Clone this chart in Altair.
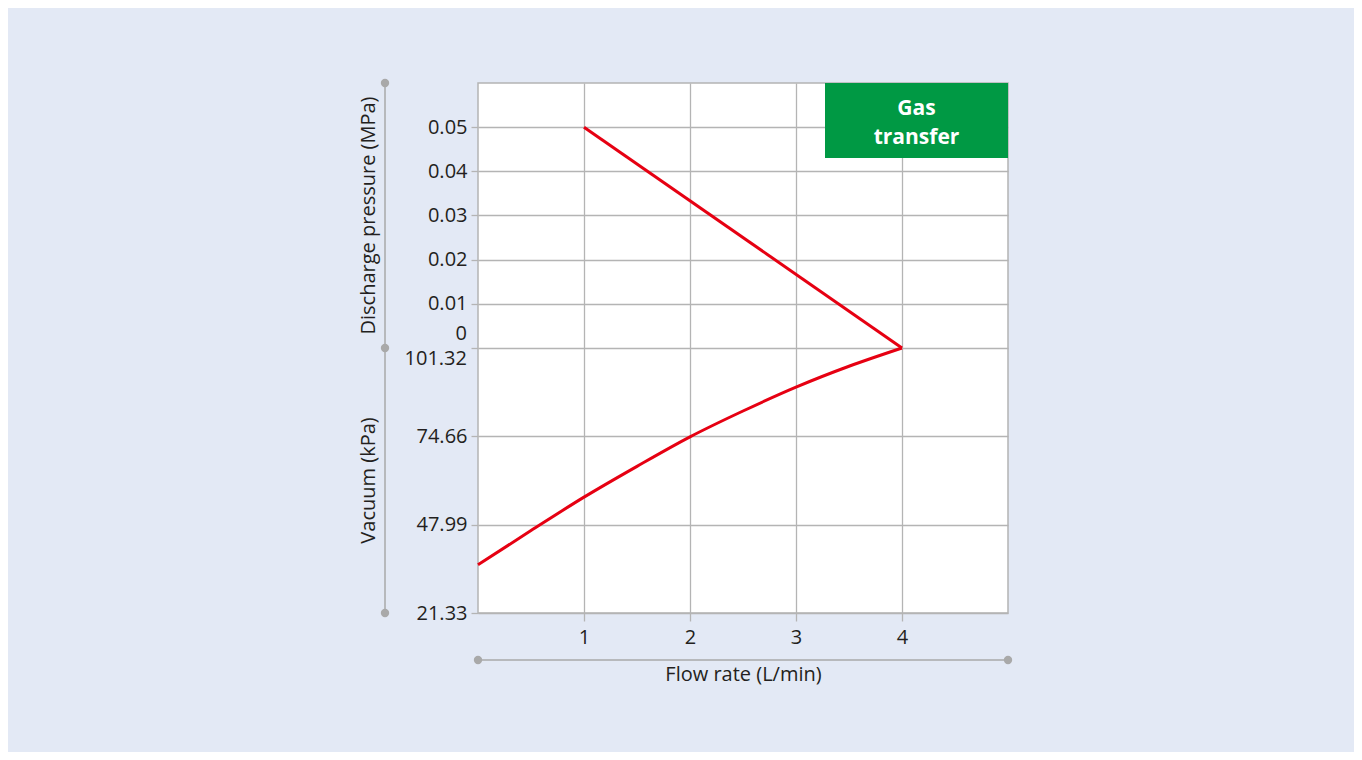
import altair as alt
import pandas as pd

# ---- data ----
flow_discharge = [1, 4]
pressure_mpa = [0.05, 0.0]

flow_vacuum = [0, 0.5, 1, 1.5, 2, 2.5, 3, 3.5, 4]
vacuum_kpa = [35.9, 46.2, 56.3, 65.6, 74.5, 82.3, 89.5, 95.8, 101.32]

flow_ticks = [1, 2, 3, 4]
pressure_ticks = [0.01, 0.02, 0.03, 0.04, 0.05]
vacuum_ticks = [101.32, 74.66, 47.99, 21.33]

panel_label = ["Gas", "transfer"]
x_title = "Flow rate (L/min)"
y_title_top = "Discharge pressure (MPa)"
y_title_bottom = "Vacuum (kPa)"

# ---- combined vertical scale: pressure above 0, vacuum below ----
def p_unit(p):
    return p * 100.0

def v_unit(v):
    return (v - 101.32) / 13.33

W, H = 530, 530
FONT = "Open Sans"
FS = 20
TXT = "#231f20"
GRID = "#b4b4b4"
DECO = "#a9a9a9"
BG = "#e3e9f5"

curve = pd.DataFrame(
    {
        "flow": flow_discharge + flow_vacuum,
        "y": [p_unit(p) for p in pressure_mpa] + [v_unit(v) for v in vacuum_kpa],
        "series": ["discharge"] * len(flow_discharge) + ["vacuum"] * len(flow_vacuum),
    }
)

# axis ticks & labels (the shared zero line gets its two labels from a text layer)
tick_pos = [p_unit(p) for p in pressure_ticks] + [v_unit(v) for v in vacuum_ticks[1:]]
tick_lab = [f"{p:.2f}" for p in pressure_ticks] + [f"{v:.2f}" for v in vacuum_ticks[1:]]

expr = ""
for pos, lab in zip(tick_pos, tick_lab):
    expr += f"abs(datum.value - ({pos:.5f})) < 0.01 ? '{lab}' : "
expr += "''"

ydom = [v_unit(vacuum_ticks[-1]), 6.0]
xdom = [0, 5]

xs = alt.Scale(domain=xdom, nice=False, zero=False)
ys = alt.Scale(domain=ydom, nice=False, zero=False)

x_axis = alt.Axis(
    values=flow_ticks,
    format="d",
    grid=True,
    gridColor=GRID,
    gridWidth=1.3,
    domain=False,
    ticks=True,
    tickColor=GRID,
    tickSize=8,
    tickWidth=1.3,
    labelFont=FONT,
    labelFontSize=FS,
    labelColor=TXT,
    labelPadding=6,
    title=x_title,
    titleFont=FONT,
    titleFontSize=FS,
    titleFontWeight="normal",
    titleColor=TXT,
    titlePadding=17,
)

y_axis = alt.Axis(
    values=[0.0] + tick_pos,
    grid=True,
    gridColor=GRID,
    gridWidth=1.3,
    domain=False,
    ticks=True,
    tickColor=GRID,
    tickSize=7,
    tickWidth=1.3,
    labelFont=FONT,
    labelFontSize=FS,
    labelColor=TXT,
    labelPadding=4,
    labelOverlap=False,
    labelExpr=expr,
    title=None,
)

lines = (
    alt.Chart(curve)
    .mark_line(color="#e60012", strokeWidth=3, interpolate="monotone")
    .encode(
        x=alt.X("flow:Q", scale=xs, axis=x_axis),
        y=alt.Y("y:Q", scale=ys, axis=y_axis),
        detail="series:N",
    )
)

# the two labels that share the zero line
zero_df = pd.DataFrame({"y": [0.0], "t": ["0"]})
zero_top = (
    alt.Chart(zero_df)
    .mark_text(font=FONT, fontSize=FS, color=TXT, align="right", baseline="middle", dy=-14)
    .encode(x=alt.value(-11), y=alt.Y("y:Q", scale=ys), text="t:N")
)
zero_bot_df = pd.DataFrame({"y": [0.0], "t": [f"{vacuum_ticks[0]:.2f}"]})
zero_bot = (
    alt.Chart(zero_bot_df)
    .mark_text(font=FONT, fontSize=FS, color=TXT, align="right", baseline="middle", dy=11)
    .encode(x=alt.value(-11), y=alt.Y("y:Q", scale=ys), text="t:N")
)

# left decoration line with dots
left_df = pd.DataFrame({"y": [ydom[1], 0.0, ydom[0]]})
left_rule = (
    alt.Chart(pd.DataFrame({"y": [ydom[0]], "y2": [ydom[1]]}))
    .mark_rule(color=DECO, strokeWidth=1.5)
    .encode(x=alt.value(-93), y=alt.Y("y:Q", scale=ys), y2="y2:Q")
)
left_dots = (
    alt.Chart(left_df)
    .mark_circle(color=DECO, opacity=1, size=70)
    .encode(x=alt.value(-93), y=alt.Y("y:Q", scale=ys))
)

# bottom decoration line with dots
bot_df = pd.DataFrame({"x": xdom})
bot_rule = (
    alt.Chart(pd.DataFrame({"x": [xdom[0]], "x2": [xdom[1]]}))
    .mark_rule(color=DECO, strokeWidth=1.5)
    .encode(y=alt.value(H + 47), x=alt.X("x:Q", scale=xs), x2="x2:Q")
)
bot_dots = (
    alt.Chart(bot_df)
    .mark_circle(color=DECO, opacity=1, size=70)
    .encode(y=alt.value(H + 47), x=alt.X("x:Q", scale=xs))
)

# rotated axis titles
titles_df = pd.DataFrame({"y": [3.0, -3.0], "t": [y_title_top, y_title_bottom]})
titles = (
    alt.Chart(titles_df)
    .mark_text(angle=270, font=FONT, fontSize=FS, color=TXT, baseline="middle", align="center")
    .encode(x=alt.value(-109), y=alt.Y("y:Q", scale=ys), text="t:N")
)

# green label box
box = (
    alt.Chart(pd.DataFrame({"k": [0]}))
    .mark_rect(color="#009944")
    .encode(x=alt.value(347), x2=alt.value(W), y=alt.value(0), y2=alt.value(75))
)
box_text = (
    alt.Chart(pd.DataFrame({"k": [0]}))
    .mark_text(
        text=panel_label,
        font=FONT,
        fontSize=21,
        fontWeight="bold",
        color="white",
        lineHeight=29,
        align="center",
        baseline="middle",
    )
    .encode(x=alt.value(438.5), y=alt.value(26))
)

chart = (
    alt.layer(lines, zero_top, zero_bot, left_rule, left_dots, bot_rule, bot_dots, titles, box, box_text)
    .properties(
        width=W,
        height=H,
        autosize=alt.AutoSizeParams(type="none"),
        padding={"left": 470, "top": 75, "right": 1346 - 470 - W, "bottom": 744 - 75 - H},
        background=BG,
    )
    .configure_view(stroke=GRID, strokeWidth=1.5, fill="white")
)

chart.save("out.html", embed_options={"renderer": "svg", "actions": False})
